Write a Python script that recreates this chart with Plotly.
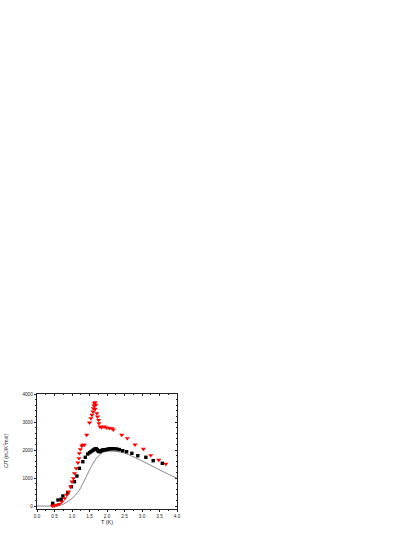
import plotly.graph_objects as go

# red triangles (sample A)
t_red = [0.44, 0.50, 0.57, 0.64, 0.71, 0.79, 0.85, 0.90, 0.96, 1.00, 1.04, 1.07, 1.12,
         1.17, 1.20, 1.21, 1.24, 1.28, 1.31, 1.35, 1.42, 1.50, 1.54, 1.57, 1.60, 1.61,
         1.63, 1.64, 1.66, 1.68, 1.66, 1.71, 1.73, 1.76, 1.77, 1.80, 1.85, 1.92, 1.99,
         2.07, 2.14, 2.18, 2.42, 2.58, 2.80, 3.04, 3.25, 3.48, 3.68]
c_red = [0, 10, 36, 71, 154, 275, 393, 511, 689, 868, 989, 1168, 1346,
         1546, 1704, 1882, 2025, 2143, 2179, 2179, 2536, 2975, 3131, 3250, 3368, 3488,
         3582, 3668, 3704, 3607, 3464, 3311, 3189, 3071, 2954, 2832, 2811, 2832, 2797,
         2775, 2775, 2725, 2536, 2418, 2190, 2036, 1811, 1643, 1500]

# black squares (sample B)
t_blk = [0.45, 0.60, 0.69, 0.74, 0.88, 0.98, 1.07, 1.14, 1.21, 1.31, 1.38, 1.45, 1.50,
         1.54, 1.58, 1.61, 1.64, 1.67, 1.69, 1.72, 1.74, 1.76, 1.78, 1.81, 1.83, 1.86,
         1.88, 1.91, 1.95, 1.99, 2.03, 2.07, 2.11, 2.16, 2.21, 2.28, 2.35, 2.45, 2.56,
         2.71, 2.88, 3.11, 3.32, 3.58]
c_blk = [96, 214, 239, 357, 475, 689, 868, 1071, 1346, 1582, 1739, 1857, 1904,
         1940, 1975, 2000, 2025, 2040, 2047, 2010, 1975, 1955, 1939, 1950, 1975, 1990,
         2000, 2005, 2010, 2020, 2030, 2040, 2045, 2048, 2045, 2036, 2015, 1975, 1940,
         1882, 1796, 1740, 1618, 1525]

# model curve
t_fit = [0.0, 0.5, 0.7, 0.8, 0.9, 1.0, 1.1, 1.2, 1.3, 1.4, 1.5, 1.6, 1.7, 1.8, 1.9,
         2.0, 2.2, 2.5, 2.8, 3.0, 3.3, 3.6, 4.0]
c_fit = [0, 5, 40, 100, 180, 270, 390, 550, 780, 1030, 1290, 1520, 1710, 1840, 1920,
         1955, 1955, 1890, 1730, 1610, 1420, 1230, 990]

x_ticks = [0, 0.5, 1.0, 1.5, 2.0, 2.5, 3.0, 3.5, 4.0]
x_labels = ["0.0", "0.5", "1.0", "1.5", "2.0", "2.5", "3.0", "3.5", "4.0"]
y_ticks = [0, 1000, 2000, 3000, 4000]

FONT = "Liberation Sans, Arial, sans-serif"
INK = "#222222"
XR = [0, 4]
YR = [-107, 4000]

fig = go.Figure()
fig.add_trace(go.Scatter(x=t_fit, y=c_fit, mode="lines", line=dict(color="#555555", width=0.7, shape="spline"),
                         showlegend=False, hoverinfo="skip"))
fig.add_trace(go.Scatter(x=t_blk, y=c_blk, mode="markers",
                         marker=dict(symbol="square", size=3.4, color="black"), showlegend=False))
fig.add_trace(go.Scatter(x=t_red, y=c_red, mode="markers",
                         marker=dict(symbol="triangle-down", size=4.5, color="#ff0000"), showlegend=False))
# empty trace so the top/right axes get drawn
fig.add_trace(go.Scatter(x=[None], y=[None], xaxis="x2", yaxis="y2", showlegend=False))

tick_common = dict(ticklen=2.5, tickwidth=0.6, tickcolor=INK, linecolor=INK, automargin=False,
                   linewidth=0.7, showgrid=False, zeroline=False, showline=True)
minor_x = dict(dtick=0.25, ticklen=1.5, tickwidth=0.5, tickcolor=INK, showgrid=False)
minor_y = dict(dtick=200, ticklen=1.5, tickwidth=0.5, tickcolor=INK, showgrid=False)

fig.update_layout(
    width=415, height=537,
    margin=dict(l=37, r=238, t=394, b=28),
    paper_bgcolor="white", plot_bgcolor="white",
    font=dict(family=FONT, size=5, color=INK),
    xaxis=dict(range=XR, tickvals=x_ticks, ticktext=x_labels, ticks="outside",
               minor=dict(ticks="outside", **minor_x), tickfont=dict(size=4.6, color=INK),
               title=dict(text="T (K)", font=dict(size=5.5, color=INK), standoff=1), **tick_common),
    yaxis=dict(range=YR, tickvals=y_ticks, ticks="outside",
               minor=dict(ticks="outside", **minor_y), tickfont=dict(size=4.6, color=INK),
               **tick_common),
    xaxis2=dict(range=XR, overlaying="x", side="top", tickvals=x_ticks, ticks="inside",
                showticklabels=False, minor=dict(ticks="inside", **minor_x), **tick_common),
    yaxis2=dict(range=YR, overlaying="y", side="right", tickvals=y_ticks, ticks="inside",
                showticklabels=False, minor=dict(ticks="inside", **minor_y), **tick_common),
    annotations=[dict(text="C/T (mJ/K<sup>2</sup>mol)", xref="paper", yref="paper", x=-0.225, y=0.5,
                      xanchor="center", yanchor="middle", textangle=-90, showarrow=False,
                      font=dict(size=5, color=INK))],
)

# drop the browser's default body margin so the figure sits at the page corner
fig.write_html("out.html", config={"displayModeBar": False},
               post_script="document.body.style.margin='0';")
